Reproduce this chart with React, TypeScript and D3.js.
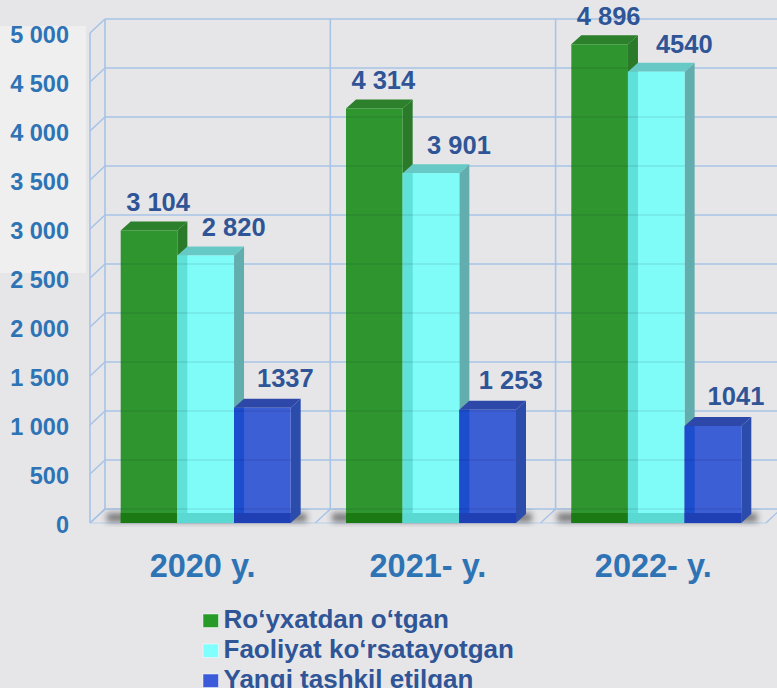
import React from 'react';
import * as d3 from 'd3';

// ---- data ----
const categories = ['2020 y.', '2021- y.', '2022- y.'];
const seriesNames = ['Ro‘yxatdan o‘tgan', 'Faoliyat ko‘rsatayotgan', 'Yangi tashkil etilgan'];
// bar heights as drawn in the picture
const registered = [2985, 4230, 4885];
const active = [2730, 3570, 4605];
const created = [1175, 1155, 990];
// value labels as printed on the picture
const registeredLabels = ['3 104', '4 314', '4 896'];
const activeLabels = ['2 820', '3 901', '4540'];
const createdLabels = ['1337', '1 253', '1041'];
const yMax = 5000;
const yStep = 500;

const W = 777;
const H = 688;
const FONT = '"Liberation Sans", Arial, Helvetica, sans-serif';

const series = [
  { key: 'reg', name: seriesNames[0], values: registered, labels: registeredLabels,
    front: '#2f962f', top: '#2c7f2b', side: '#2a7a29', bottom: '#1b7a14', band: null, legend: '#279a27', ldx: 4, ldy: -10 },
  { key: 'act', name: seriesNames[1], values: active, labels: activeLabels,
    front: '#80fcf8', top: '#67c9c6', side: '#62adad', bottom: '#5ad9d3', band: '#5fe0d8', legend: '#80ffff', ldx: 23, ldy: -10 },
  { key: 'new', name: seriesNames[2], values: created, labels: createdLabels,
    front: '#3c5fd6', top: '#2d48a8', side: '#2c4cab', bottom: '#1f3fb5', band: '#1b4dcd', legend: '#3b5bdb', ldx: 18, ldy: -12 },
];

export default function App() {
  const y = d3.scaleLinear().domain([0, yMax]).range([523, 33]);
  const x = d3.scaleBand<string>().domain(categories).range([90, 90 + 3 * 225.3]).padding(0);
  const xs = d3.scaleBand<string>().domain(series.map(s => s.key)).range([30.7, 200.7]).padding(0);
  const ticks = d3.range(0, yMax + yStep, yStep);
  const fmt = d3.formatLocale({ decimal: ',', thousands: ' ', grouping: [3], currency: ['', ''] }).format(',');
  const WDX = 15, WDY = -14; // wall depth
  const BDX = 10, BDY = -9; // bar depth
  const grid = '#a7c3e6';
  const y0 = y(0);
  const backRight = W + 5;

  const bandEdges = categories.map(c => x(c)!).concat([x(categories[2])! + x.bandwidth()]);

  const bars: any[] = [];
  const fronts: any[] = [];
  categories.forEach((c, ci) => {
    series.forEach(s => {
      const bx = x(c)! + xs(s.key)!;
      const bw = xs.bandwidth();
      const ty = y(s.values[ci]);
      bars.push({ c, ci, s, bx, bw, ty });
      fronts.push({ bx, bw, ty });
    });
  });

  return (
    <svg width={W} height={H} style={{ position: 'absolute', left: 0, top: 0, display: 'block' }}
      xmlns="http://www.w3.org/2000/svg">
      <defs>
        <filter id="blur" x="-50%" y="-50%" width="200%" height="200%">
          <feGaussianBlur stdDeviation="3" />
        </filter>
        <clipPath id="barclip">
          {fronts.map((f, i) => (
            <rect key={i} x={f.bx} y={f.ty} width={f.bw} height={y0 - f.ty} />
          ))}
        </clipPath>
      </defs>
      <rect x={0} y={0} width={W} height={H} fill="#e6e6e9" />
      <rect x={0} y={26} width={86} height={247} fill="#efeff0" />

      {/* side wall and back wall gridlines */}
      {ticks.map(t => (
        <g key={t}>
          <line x1={90} y1={y(t)} x2={90 + WDX} y2={y(t) + WDY} stroke={grid} strokeWidth={1.6} />
          <line x1={90 + WDX} y1={y(t) + WDY} x2={backRight} y2={y(t) + WDY} stroke={grid} strokeWidth={1.6} />
        </g>
      ))}
      <line x1={90} y1={y(yMax)} x2={90} y2={y0} stroke={grid} strokeWidth={1.6} />
      {bandEdges.map((e, i) => (
        <line key={i} x1={e + WDX} y1={y(yMax) + WDY} x2={e + WDX} y2={y0 + WDY} stroke={grid} strokeWidth={1.6} />
      ))}
      {/* floor */}
      <line x1={90} y1={y0} x2={bandEdges[3]} y2={y0} stroke="#c9d7ea" strokeWidth={1.6} />
      {bandEdges.map((e, i) => (
        <line key={'f' + i} x1={e} y1={y0} x2={e + WDX} y2={y0 + WDY} stroke={grid} strokeWidth={1.4} />
      ))}

      {/* shadows */}
      {categories.map(c => {
        const gx = x(c)! + xs.range()[0];
        const gw = xs.range()[1] - xs.range()[0];
        return (
          <rect key={c} x={gx - 14} y={y0 - 10} width={gw + 30} height={9} fill="#222" opacity={0.55} filter="url(#blur)" />
        );
      })}

      {/* bars */}
      {bars.map((b, i) => {
        const { s, bx, bw, ty } = b;
        const top = `M${bx},${ty} L${bx + bw},${ty} L${bx + bw + BDX},${ty + BDY} L${bx + BDX},${ty + BDY} Z`;
        const side = `M${bx + bw},${ty} L${bx + bw + BDX},${ty + BDY} L${bx + bw + BDX},${y0 + BDY} L${bx + bw},${y0} Z`;
        return (
          <g key={i}>
            <path d={side} fill={s.side} />
            <path d={top} fill={s.top} />
            <rect x={bx} y={ty} width={bw} height={y0 - ty} fill={s.front} />
            {s.band && <rect x={bx} y={ty} width={BDX} height={y0 - ty} fill={s.band} />}
            <rect x={bx} y={y0 + BDY - 1} width={bw} height={-BDY + 1} fill={s.bottom} />
          </g>
        );
      })}
      {/* gridlines seen through the bars */}
      <g clipPath="url(#barclip)">
        {ticks.map(t => (
          <line key={t} x1={90} y1={y(t) + WDY} x2={backRight} y2={y(t) + WDY} stroke="#000030" strokeOpacity={0.09} strokeWidth={1.6} />
        ))}
      </g>

      {/* tick labels */}
      {ticks.map(t => (
        <text key={t} x={69} y={y(t) + 10} textAnchor="end" fontFamily={FONT} fontWeight="bold" fontSize={23.5} fill="#2e74b5">
          {fmt(t)}
        </text>
      ))}

      {/* value labels */}
      {bars.map((b, i) => (
        <text key={i} x={b.bx + (b.bw + BDX) / 2 + b.s.ldx} y={b.ty + BDY + b.s.ldy} textAnchor="middle"
          fontFamily={FONT} fontWeight="bold" fontSize={25.5} fill="#2f5597">
          {b.s.labels[b.ci]}
        </text>
      ))}

      {/* category labels */}
      {categories.map(c => (
        <text key={c} x={x(c)! + x.bandwidth() / 2} y={577} textAnchor="middle"
          fontFamily={FONT} fontWeight="bold" fontSize={32.5} fill="#2e74b5">
          {c}
        </text>
      ))}

      {/* legend */}
      {series.map((s, i) => (
        <g key={s.key} transform={`translate(203, ${628.3 + i * 30})`}>
          <rect x={0} y={-14.3} width={15.5} height={13.5} fill={s.legend} stroke="#ffffff" strokeOpacity={0.6} strokeWidth={0.8} />
          <text x={20.5} y={0} fontFamily={FONT} fontWeight="bold" fontSize={26} fill="#2f5597">{s.name}</text>
        </g>
      ))}
    </svg>
  );
}
